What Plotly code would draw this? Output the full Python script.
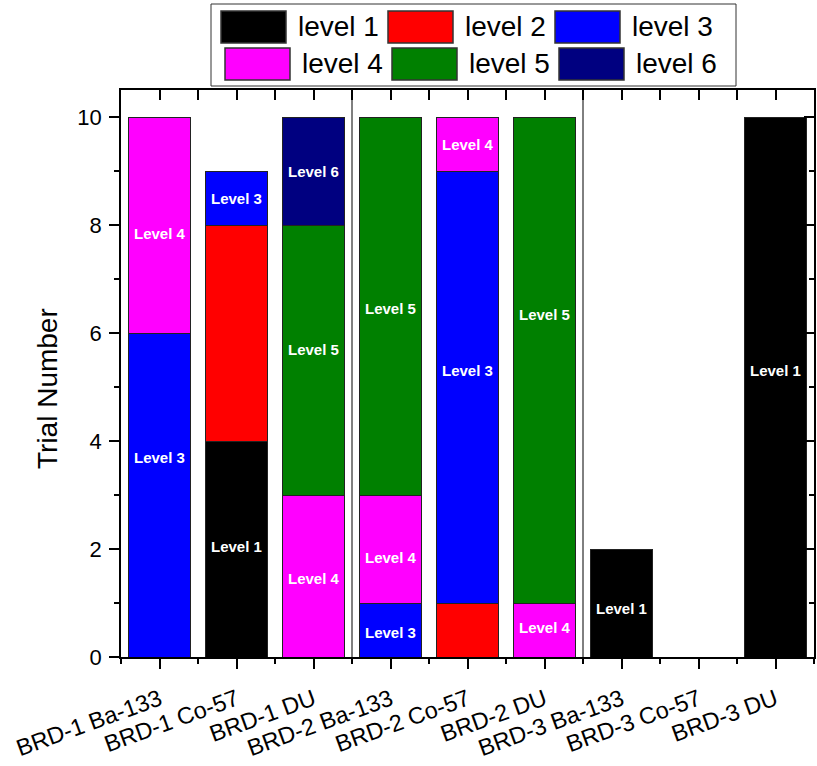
import plotly.graph_objects as go

# ---------------- data ----------------
categories = ["BRD-1 Ba-133", "BRD-1 Co-57", "BRD-1 DU",
              "BRD-2 Ba-133", "BRD-2 Co-57", "BRD-2 DU",
              "BRD-3 Ba-133", "BRD-3 Co-57", "BRD-3 DU"]
level_names = ["level 1", "level 2", "level 3", "level 4", "level 5", "level 6"]
level_colors = ["#000000", "#FF0000", "#0000FF", "#FF00FF", "#008000", "#000080"]

level1 = [0, 4, 0, 0, 0, 0, 2, 0, 10]
level2 = [0, 4, 0, 0, 1, 0, 0, 0, 0]
level3 = [6, 1, 0, 1, 8, 0, 0, 0, 0]
level4 = [4, 0, 3, 2, 1, 1, 0, 0, 0]
level5 = [0, 0, 5, 7, 0, 9, 0, 0, 0]
level6 = [0, 0, 2, 0, 0, 0, 0, 0, 0]
level_values = [level1, level2, level3, level4, level5, level6]

# in-bar labels (category, y, text)
label_cat = ["BRD-1 Ba-133", "BRD-1 Ba-133", "BRD-1 Co-57", "BRD-1 Co-57",
             "BRD-1 DU", "BRD-1 DU", "BRD-1 DU",
             "BRD-2 Ba-133", "BRD-2 Ba-133", "BRD-2 Ba-133",
             "BRD-2 Co-57", "BRD-2 Co-57", "BRD-2 DU", "BRD-2 DU",
             "BRD-3 Ba-133", "BRD-3 DU"]
label_y = [3.7, 7.85, 2.05, 8.5,
           1.45, 5.7, 9.0,
           0.45, 1.85, 6.45,
           5.3, 9.5, 0.55, 6.35,
           0.9, 5.3]
label_text = ["Level 3", "Level 4", "Level 1", "Level 3",
              "Level 4", "Level 5", "Level 6",
              "Level 3", "Level 4", "Level 5",
              "Level 3", "Level 4", "Level 4", "Level 5",
              "Level 1", "Level 1"]

y_title = "Trial Number"
group_size = 3
y_max = 10.5

# ---------------- figure ----------------
FONT = "Arial, Liberation Sans, sans-serif"
W, H = 817, 766
ML, MR, MT, MB = 121, 3, 90, 109
PW, PH = W - ML - MR, H - MT - MB

xpos = list(range(len(categories)))
fig = go.Figure()
for name, color, vals in zip(level_names, level_colors, level_values):
    fig.add_trace(go.Bar(
        x=xpos, y=[v if v else None for v in vals], name=name,
        marker=dict(color=color, line=dict(color="#222222", width=1)),
        width=0.8, showlegend=False, hoverinfo="x+y+name"))

# empty trace so the mirrored axes (top/right) are drawn
fig.add_trace(go.Scatter(x=[], y=[], xaxis="x2", yaxis="y2",
                         showlegend=False, hoverinfo="skip"))

annotations = []
for c, yv, t in zip(label_cat, label_y, label_text):
    annotations.append(dict(x=categories.index(c), y=yv, xref="x", yref="y",
                            text="<b>%s</b>" % t, showarrow=False,
                            font=dict(family=FONT, size=15, color="white")))

shapes = []
# group separators
for b in range(group_size, len(categories), group_size):
    shapes.append(dict(type="line", xref="x", yref="paper", x0=b - 0.5, x1=b - 0.5,
                       y0=0, y1=1, line=dict(color="black", width=1)))


def pxx(px):
    return (px - ML) / PW


def pxy(py):
    return (H - MB - py) / PH


# y-axis title
annotations.append(dict(x=pxx(47), y=pxy(389), xref="paper", yref="paper",
                        text=y_title, textangle=-90, showarrow=False,
                        xanchor="center", yanchor="middle",
                        font=dict(family=FONT, size=28, color="black")))

# manual legend (large swatches like the original)
shapes.append(dict(type="rect", xref="paper", yref="paper",
                   x0=pxx(211), x1=pxx(736), y0=pxy(86), y1=pxy(4),
                   line=dict(color="#333333", width=1), fillcolor="white", layer="above"))
row_x0 = [221, 225]
row_y = [(11, 43), (48, 80)]
step = 167
for i, (name, color) in enumerate(zip(level_names, level_colors)):
    r, c = divmod(i, 3)
    x0 = row_x0[r] + c * step
    y0, y1 = row_y[r]
    shapes.append(dict(type="rect", xref="paper", yref="paper",
                       x0=pxx(x0), x1=pxx(x0 + 65), y0=pxy(y1), y1=pxy(y0),
                       fillcolor=color, line=dict(color="#333333", width=1.5),
                       layer="above"))
    annotations.append(dict(x=pxx(x0 + 75), y=pxy((y0 + y1) / 2), xref="paper", yref="paper",
                            text=name, showarrow=False, xanchor="left", yanchor="middle",
                            font=dict(family=FONT, size=28, color="black")))

axis_common = dict(showgrid=False, zeroline=False, linecolor="black", linewidth=1.5,
                   tickcolor="black", tickwidth=1.5)

fig.update_layout(
    width=W, height=H,
    margin=dict(l=ML, r=MR, t=MT, b=MB, autoexpand=False),
    paper_bgcolor="white", plot_bgcolor="white",
    barmode="stack",
    font=dict(family=FONT, size=22, color="black"),
    showlegend=False,
    xaxis=dict(range=[-0.5, len(categories) - 0.5], tickmode="array", tickvals=xpos,
               ticktext=categories, tickangle=-20, ticks="outside", ticklen=10,
               ticklabelstandoff=8,
               showline=True, mirror=True,
               minor=dict(tickmode="array", tickvals=[i - 0.5 for i in range(len(categories) + 1)],
                          ticks="outside", ticklen=5, tickcolor="black", tickwidth=1.5),
               tickfont=dict(size=23.5), automargin=False, **axis_common),
    yaxis=dict(range=[0, y_max], dtick=2, ticks="outside", ticklen=10,
               ticklabelstandoff=3,
               showline=True, mirror=True,
               minor=dict(dtick=1, ticks="outside", ticklen=5, tickcolor="black", tickwidth=1.5),
               tickfont=dict(size=22),
               automargin=False, **axis_common),
    xaxis2=dict(range=[-0.5, len(categories) - 0.5], overlaying="x", side="top", anchor="y",
                tickmode="array", tickvals=xpos, ticks="inside", ticklen=10,
                showticklabels=False, showline=False,
                minor=dict(tickmode="array", tickvals=[i - 0.5 for i in range(len(categories) + 1)],
                           ticks="inside", ticklen=10, tickcolor="black", tickwidth=1.5),
                **axis_common),
    yaxis2=dict(range=[0, y_max], overlaying="y", side="right", anchor="x",
                dtick=2, ticks="inside", ticklen=10, showticklabels=False, showline=False,
                minor=dict(dtick=1, ticks="inside", ticklen=5, tickcolor="black", tickwidth=1.5),
                **axis_common),
    annotations=annotations,
    shapes=shapes,
)

fig.write_html("out.html",
               config={"displayModeBar": False},
               post_script="document.body.style.margin='0';"
                           "document.body.style.overflow='hidden';")
